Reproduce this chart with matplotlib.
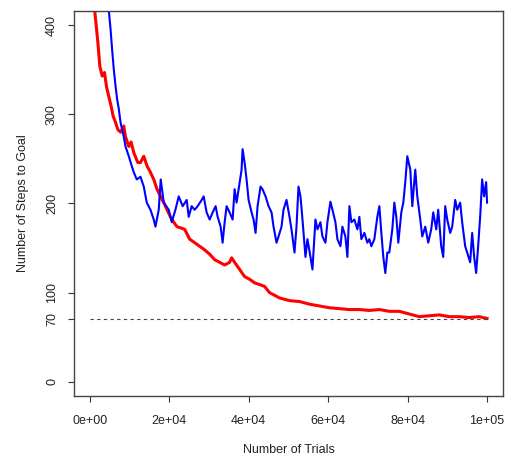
import numpy as np
import matplotlib
matplotlib.use("Agg")
import matplotlib.pyplot as plt

# Steps-to-goal learning curves
red_trials = [1180, 1680, 2010, 2510, 3100, 3690, 4190, 4770, 5360, 5860,
              6460, 7040, 7720, 8540, 8970, 9800, 10380, 11060, 12060, 12740,
              13570, 14400, 15250, 16080, 16910, 17770, 18600, 19430, 20280, 21110,
              21940, 23870, 25130, 26390, 27640, 28900, 30160, 31410, 32670, 33930,
              35180, 35680, 36440, 37700, 38950, 40210, 41460, 42720, 43980, 45230,
              46490, 47750, 50260, 52770, 55290, 57800, 60310, 62830, 65340, 67850,
              70360, 72880, 75390, 77900, 80420, 82930, 85440, 87960, 90470, 92980,
              95490, 98010, 100000]
red_steps = [418, 396, 381, 354, 343, 347, 331, 320, 309, 298,
             291, 283, 280, 287, 275, 264, 269, 257, 246, 246,
             253, 242, 235, 227, 216, 208, 201, 193, 185, 179,
             174, 171, 160, 156, 152, 148, 143, 137, 134, 131,
             134, 139, 134, 126, 118, 115, 111, 109, 107, 100,
             97, 94, 91, 90, 87, 85, 83, 82, 81, 81,
             80, 81, 79, 79, 76, 73, 74, 75, 73, 73,
             72, 73, 71]

blue_trials = [4700, 5200, 5600, 6030, 6460, 6860, 7290, 7720, 8540, 8970,
               9800, 10550, 11060, 11810, 12740, 13570, 14320, 15250, 16080, 16510,
               17340, 17840, 18600, 19850, 20610, 21540, 22370, 23370, 24380, 24880,
               25630, 26390, 27140, 28150, 28650, 29400, 30160, 30910, 31660, 32170,
               32920, 33420, 33930, 34430, 35180, 35940, 36440, 36940, 37440, 38200,
               38450, 38950, 39450, 39960, 40710, 41210, 41720, 42220, 42970, 43470,
               44230, 44980, 45740, 46240, 46990, 47500, 48250, 48750, 49510, 50260,
               50760, 51520, 52020, 52520, 53020, 53530, 54280, 54780, 55540, 56040,
               56790, 57300, 58050, 58550, 59310, 59810, 60560, 61070, 61820, 62320,
               63080, 63580, 64330, 64840, 65340, 65840, 66590, 67350, 67850, 68350,
               69110, 69860, 70360, 70870, 71620, 72370, 72880, 73380, 73880, 74380,
               74890, 75390, 76140, 76650, 77150, 77650, 78410, 78910, 79410, 79910,
               80670, 81170, 81920, 82430, 83180, 83680, 84440, 85190, 85940, 86450,
               87200, 87700, 88460, 88960, 89460, 89970, 90720, 91220, 91980, 92480,
               93230, 93730, 94490, 94990, 95740, 96250, 96750, 97250, 97750, 98260,
               98760, 99260, 99760, 100000]
blue_steps = [420, 396, 373, 350, 332, 317, 306, 291, 275, 264,
              253, 242, 235, 227, 230, 219, 201, 193, 182, 174,
              193, 227, 201, 193, 179, 193, 208, 197, 204, 185,
              197, 193, 197, 204, 208, 190, 182, 190, 197, 185,
              174, 156, 179, 197, 190, 182, 216, 201, 216, 238,
              261, 246, 227, 204, 190, 182, 167, 197, 219, 216,
              208, 197, 190, 174, 156, 163, 174, 193, 204, 185,
              171, 145, 174, 219, 208, 182, 140, 160, 140, 126,
              182, 171, 179, 163, 156, 179, 202, 193, 179, 160,
              152, 174, 163, 140, 197, 179, 182, 171, 185, 160,
              167, 156, 160, 152, 160, 185, 197, 167, 140, 122,
              145, 145, 171, 201, 185, 156, 190, 201, 224, 253,
              238, 197, 238, 208, 182, 163, 174, 156, 171, 190,
              171, 193, 152, 140, 197, 182, 167, 174, 204, 193,
              201, 179, 152, 145, 134, 167, 140, 122, 152, 185,
              227, 208, 224, 201]

optimum = 70
x_ticks = [0, 20000, 40000, 60000, 80000, 100000]
x_labels = ["0e+00", "2e+04", "4e+04", "6e+04", "8e+04", "1e+05"]
y_ticks = [0, 70, 100, 200, 300, 400]

plt.rcParams['font.family'] = ['Liberation Sans', 'DejaVu Sans']

fig = plt.figure(figsize=(5.06, 4.59), dpi=100)
ax = fig.add_axes([0.1462, 0.1373, 0.8478, 0.8387])

ax.plot(red_trials, red_steps, color='red', lw=2.2)
ax.plot(blue_trials, blue_steps, color='blue', lw=1.5)
ax.plot([0, 100000], [optimum, optimum], color='#444444', lw=0.8,
        linestyle=(0, (3, 3)))

ax.set_xlim(-4000, 104000)
ax.set_ylim(-16, 416)

ax.set_xticks(x_ticks)
ax.set_xticklabels(x_labels)
ax.set_yticks(y_ticks)
ax.set_yticklabels([str(v) for v in y_ticks], rotation=90, va='center')
ax.tick_params(direction='out', length=4.5, width=0.8, colors='#333333',
               labelsize=9, labelcolor='#222222')
ax.tick_params(axis='x', pad=9)
ax.tick_params(axis='y', pad=7)

for s in ax.spines.values():
    s.set_color('#444444')
    s.set_linewidth(1.0)

ax.set_xlabel("Number of Trials", fontsize=9, color='#222222')
ax.set_ylabel("Number of Steps to Goal", fontsize=9, color='#222222')
ax.xaxis.set_label_coords(0.5, -0.124)
ax.yaxis.set_label_coords(-0.104, 0.5)

fig.savefig("out.png", dpi=100, facecolor='white')
